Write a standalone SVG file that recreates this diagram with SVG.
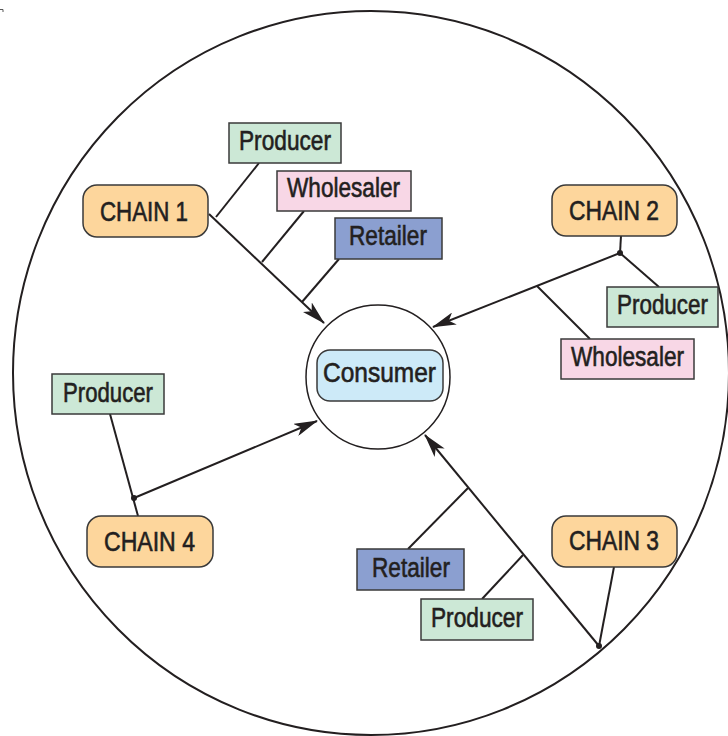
<svg xmlns="http://www.w3.org/2000/svg" width="728" height="736" viewBox="0 0 728 736">
<defs>
<style>
.t{font-family:"Liberation Sans Narrow","Liberation Sans",Arial,sans-serif;font-size:27px;fill:#231f20;stroke:#231f20;stroke-width:0.6;text-anchor:start}
.chain{fill:#fdd69c;stroke:#3a3a3a;stroke-width:1.5}
.prod{fill:#cce8d6;stroke:#3a3a3a;stroke-width:1.5}
.whol{fill:#f8d7e6;stroke:#3a3a3a;stroke-width:1.5}
.ret{fill:#8b9fd0;stroke:#3a3a3a;stroke-width:1.5}
.cons{fill:#cdeaf8;stroke:#3a3a3a;stroke-width:1.5}
.ln{fill:none;stroke:#231f20;stroke-width:2}
.dot{fill:#231f20}
</style>
<marker id="ah" viewBox="0 0 24 13" refX="23" refY="6.5" markerWidth="24" markerHeight="13" markerUnits="userSpaceOnUse" orient="auto">
<path d="M0,0 L24,6.5 L0,13 L6,6.5 z" fill="#231f20"/>
</marker>
</defs>
<rect width="728" height="736" fill="#ffffff"/>
<path d="M0,9.5 H3 V12" fill="none" stroke="#555" stroke-width="1"/>
<g id="outer-circle">
<ellipse cx="371" cy="373" rx="358" ry="362" fill="none" stroke="#231f20" stroke-width="2"/>
</g>
<g id="connectors">
<line class="ln" x1="209" y1="214" x2="324" y2="323" marker-end="url(#ah)"/>
<line class="ln" x1="259" y1="163" x2="216" y2="217"/>
<line class="ln" x1="304" y1="211" x2="262" y2="262"/>
<line class="ln" x1="339" y1="259" x2="302" y2="302"/>
<line class="ln" x1="621" y1="236" x2="620" y2="253"/>
<line class="ln" x1="620" y1="253" x2="659" y2="287"/>
<line class="ln" x1="620" y1="253" x2="433" y2="327" marker-end="url(#ah)"/>
<line class="ln" x1="590" y1="339" x2="537" y2="286"/>
<circle class="dot" cx="620" cy="253" r="3"/>
<line class="ln" x1="110" y1="414" x2="138" y2="516"/>
<line class="ln" x1="134" y1="498" x2="317" y2="421" marker-end="url(#ah)"/>
<circle class="dot" cx="134" cy="498" r="3"/>
<line class="ln" x1="614" y1="567" x2="599" y2="646"/>
<line class="ln" x1="599" y1="646" x2="425" y2="435" marker-end="url(#ah)"/>
<line class="ln" x1="408" y1="549" x2="468" y2="488"/>
<line class="ln" x1="482" y1="599" x2="523" y2="555"/>
<circle class="dot" cx="599" cy="646" r="3"/>
</g>
<g id="consumer">
<circle cx="378" cy="377" r="72" fill="#ffffff" stroke="#231f20" stroke-width="1.5"/>
<rect class="cons" x="317" y="350" width="126" height="51" rx="13"/>
<text class="t" x="323" y="382" textLength="113" lengthAdjust="spacingAndGlyphs">Consumer</text>
</g>
<g id="chain1">
<rect class="chain" x="83" y="185" width="125" height="52" rx="14"/>
<text class="t" x="100" y="221" textLength="88" lengthAdjust="spacingAndGlyphs">CHAIN 1</text>
</g>
<g id="chain1-producer">
<rect class="prod" x="229" y="123" width="112" height="40"/>
<text class="t" x="239" y="150" textLength="92" lengthAdjust="spacingAndGlyphs">Producer</text>
</g>
<g id="chain1-wholesaler">
<rect class="whol" x="277" y="171" width="134" height="40"/>
<text class="t" x="287" y="197" textLength="113" lengthAdjust="spacingAndGlyphs">Wholesaler</text>
</g>
<g id="chain1-retailer">
<rect class="ret" x="335" y="218" width="107" height="41"/>
<text class="t" x="349" y="245" textLength="78" lengthAdjust="spacingAndGlyphs">Retailer</text>
</g>
<g id="chain2">
<rect class="chain" x="552" y="185" width="125" height="51" rx="14"/>
<text class="t" x="569" y="220" textLength="90" lengthAdjust="spacingAndGlyphs">CHAIN 2</text>
</g>
<g id="chain2-producer">
<rect class="prod" x="607" y="287" width="111" height="40"/>
<text class="t" x="617" y="314" textLength="91" lengthAdjust="spacingAndGlyphs">Producer</text>
</g>
<g id="chain2-wholesaler">
<rect class="whol" x="561" y="339" width="133" height="40"/>
<text class="t" x="571" y="366" textLength="113" lengthAdjust="spacingAndGlyphs">Wholesaler</text>
</g>
<g id="chain3">
<rect class="chain" x="552" y="516" width="125" height="51" rx="14"/>
<text class="t" x="569" y="550" textLength="90" lengthAdjust="spacingAndGlyphs">CHAIN 3</text>
</g>
<g id="chain3-retailer">
<rect class="ret" x="357" y="549" width="107" height="41"/>
<text class="t" x="372" y="577" textLength="78" lengthAdjust="spacingAndGlyphs">Retailer</text>
</g>
<g id="chain3-producer">
<rect class="prod" x="421" y="599" width="112" height="41"/>
<text class="t" x="431" y="627" textLength="92" lengthAdjust="spacingAndGlyphs">Producer</text>
</g>
<g id="chain4">
<rect class="chain" x="87" y="516" width="126" height="51" rx="14"/>
<text class="t" x="104" y="551" textLength="91" lengthAdjust="spacingAndGlyphs">CHAIN 4</text>
</g>
<g id="chain4-producer">
<rect class="prod" x="52" y="374" width="112" height="40"/>
<text class="t" x="63" y="402" textLength="90" lengthAdjust="spacingAndGlyphs">Producer</text>
</g>
</svg>
